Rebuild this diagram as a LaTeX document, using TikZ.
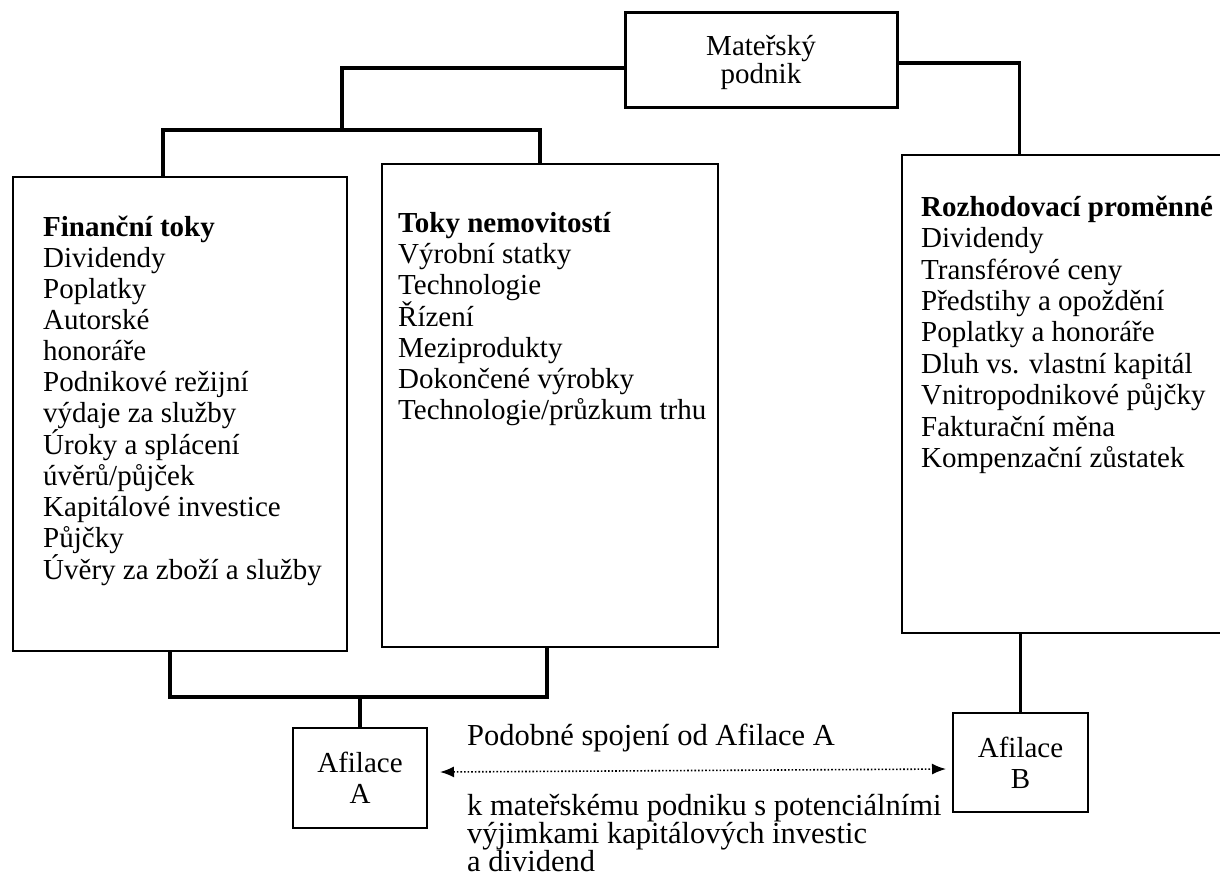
\documentclass[tikz,border=0pt]{standalone}
\usepackage{fontspec}
\setmainfont{Liberation Serif}
\usetikzlibrary{arrows.meta}
\begin{document}
\begin{tikzpicture}[x=1pt,y=-1pt,
  thinbox/.style={draw, line width=1.3pt, rectangle, inner sep=0pt},
  thickbox/.style={draw, line width=3pt, rectangle, inner sep=0pt, align=center, font=\fontsize{29}{28}\selectfont},
  smallbox/.style={draw, line width=1.3pt, rectangle, inner sep=0pt, align=center, font=\fontsize{29}{31}\selectfont},
  conn/.style={line width=3.5pt, line join=miter},
  listtxt/.style={anchor=north west, inner sep=0pt, align=left, font=\fontsize{29}{31}\selectfont},
  plaintxt/.style={anchor=base west, inner sep=0pt, align=left, font=\fontsize{30.5}{28}\selectfont},
  dotarrow/.style={line width=1.6pt, dash pattern=on 1.6pt off 2pt, {Latex[length=14pt,width=11pt]}-{Latex[length=14pt,width=11pt]}}
]
\useasboundingbox (0,0) rectangle (1220,884);
\clip (0,0) rectangle (1220,884);
\fill[white] (0,0) rectangle (1220,884);

% boxes
\node[thickbox, minimum width=272pt, minimum height=95pt, text depth=2pt] (mat) at (761,60) {Mateřský\\podnik};
\node[thinbox, minimum width=334pt, minimum height=474pt] (box1) at (180,414) {};
\node[thinbox, minimum width=336pt, minimum height=483pt] (box2) at (550,405.5) {};
\node[thinbox, minimum width=338pt, minimum height=478pt] (box3) at (1071,394) {};
\node[smallbox, minimum width=134pt, minimum height=100pt] (afa) at (360,778) {Afilace\\A};
\node[smallbox, minimum width=135pt, minimum height=99pt] (afb) at (1020.5,762.5) {Afilace\\B};

% box texts
\node[listtxt] (t1) at (43,211) {\rule{0pt}{25pt}\textbf{Finanční toky}\\Dividendy\\Poplatky\\Autorské\\honoráře\\Podnikové režijní\\výdaje za služby\\Úroky a splácení\\úvěrů/půjček\\Kapitálové investice\\Půjčky\\Úvěry za zboží a služby};
\node[listtxt] (t2) at (398,207) {\rule{0pt}{25pt}\textbf{Toky nemovitostí}\\Výrobní statky\\Technologie\\Řízení\\Meziprodukty\\Dokončené výrobky\\Technologie/průzkum trhu};
\node[listtxt, font=\fontsize{29}{31.4}\selectfont] (t3) at (921,191) {\rule{0pt}{25pt}\textbf{Rozhodovací proměnné}\\Dividendy\\Transférové ceny\\Předstihy a opoždění\\Poplatky a honoráře\\Dluh vs. vlastní kapitál\\Vnitropodnikové půjčky\\Fakturační měna\\Kompenzační zůstatek};

% connectors top
\coordinate (j1) at (342,130);
\draw[conn] ([yshift=-8pt]mat.west) -| (j1);
\draw[conn] ([xshift=-17pt]box1.north) |- (j1) -| ([xshift=-10pt]box2.north);
\draw[conn] ([yshift=-3pt]mat.east) -| ([xshift=118pt]box3.north west);

% connectors bottom
\coordinate (j2) at (360,697);
\draw[conn] ([xshift=-10pt]box1.south) |- (j2) -| ([xshift=-3pt]box2.south);
\draw[conn] (j2) -- (afa.north);
\draw[conn] (afb.north |- box3.south) -- (afb.north);

% dotted double arrow and its text
\coordinate (al) at (440,772);
\coordinate (ar) at (946,769);
\draw[dotarrow] (al) -- (ar);
\node[plaintxt] (tp) at (467,745) {Podobné spojení od Afilace A};
\node[plaintxt, anchor=north west] (tk) at (467,793) {\rule{0pt}{22pt}k mateřskému podniku s potenciálními\\výjimkami kapitálových investic\\a dividend};
\end{tikzpicture}
\end{document}
